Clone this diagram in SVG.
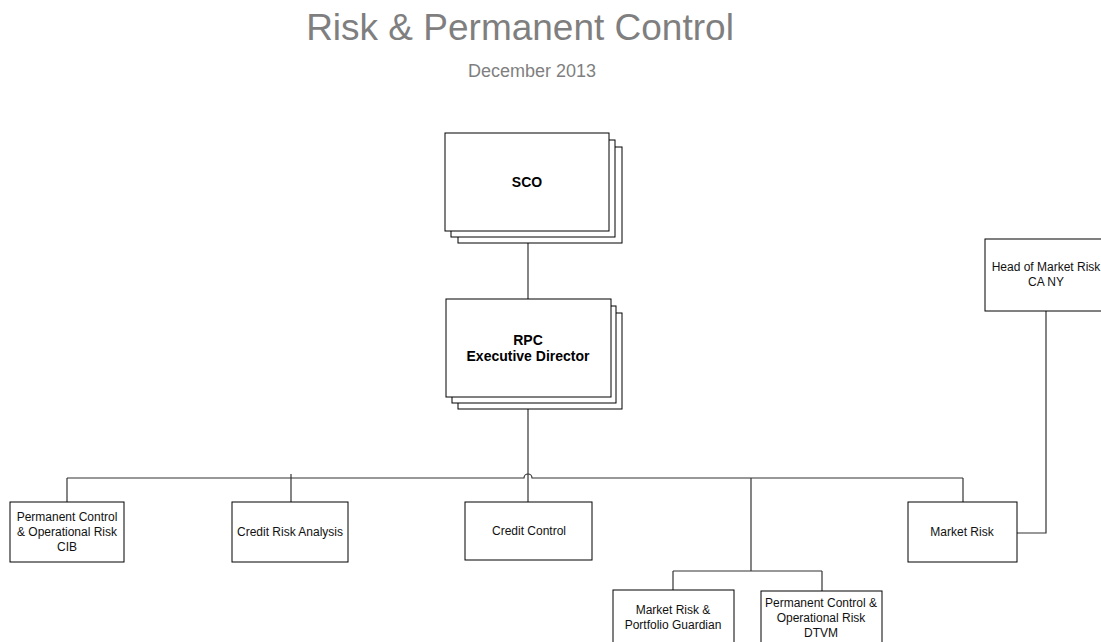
<svg xmlns="http://www.w3.org/2000/svg" width="1101" height="642" viewBox="0 0 1101 642">
<style>
.box{fill:#fff;stroke:#000;stroke-width:1}
.ln{fill:none;stroke:#333;stroke-width:1.2}
.t{font-family:"Liberation Sans",Arial,sans-serif;font-size:12px;fill:#111;text-anchor:middle}
.b{font-family:"Liberation Sans",Arial,sans-serif;font-weight:bold;font-size:14px;fill:#000;text-anchor:middle}
</style>
<rect width="1101" height="642" fill="#fff"/>
<text x="520" y="40" font-family="Liberation Sans, Arial, sans-serif" font-size="37" fill="#7f7f7f" text-anchor="middle">Risk &amp; Permanent Control</text>
<text x="532" y="77" font-family="Liberation Sans, Arial, sans-serif" font-size="18" fill="#7f7f7f" text-anchor="middle">December 2013</text>
<g id="connectors">
<path class="ln" d="M528 231V299"/>
<path class="ln" d="M528 397V502"/>
<path class="ln" d="M67 478H524A4 4 0 0 1 532 478H963"/>
<path class="ln" d="M67 478V502"/>
<path class="ln" d="M291 474V502"/>
<path class="ln" d="M963 478V502"/>
<path class="ln" d="M751 478V571"/>
<path class="ln" d="M673 571H822"/>
<path class="ln" d="M673 571V590"/>
<path class="ln" d="M822 571V591"/>
<path class="ln" d="M1046 311V533H1017"/>
</g>
<g id="sco">
<rect class="box" x="458" y="147" width="164" height="96"/>
<rect class="box" x="451" y="140" width="164" height="97"/>
<rect class="box" x="445" y="133" width="164" height="98"/>
<text class="b" x="527" y="187" font-size="13">SCO</text>
</g>
<g id="rpc">
<rect class="box" x="458" y="313" width="164" height="96"/>
<rect class="box" x="452" y="306" width="164" height="97"/>
<rect class="box" x="446" y="299" width="165" height="98"/>
<text class="b" x="528" y="345">RPC</text>
<text class="b" x="528" y="361">Executive Director</text>
</g>
<g id="pc-cib">
<rect class="box" x="10" y="502" width="114" height="60"/>
<text class="t" x="67" y="521">Permanent Control</text>
<text class="t" x="67" y="536">&amp; Operational Risk</text>
<text class="t" x="67" y="551">CIB</text>
</g>
<g id="credit-risk-analysis">
<rect class="box" x="232" y="502" width="116" height="60"/>
<text class="t" x="290" y="536">Credit Risk Analysis</text>
</g>
<g id="credit-control">
<rect class="box" x="465" y="502" width="127" height="58"/>
<text class="t" x="529" y="535">Credit Control</text>
</g>
<g id="market-risk">
<rect class="box" x="908" y="502" width="109" height="60"/>
<text class="t" x="962" y="536">Market Risk</text>
</g>
<g id="head-market-risk">
<rect class="box" x="985" y="239" width="125" height="72"/>
<text class="t" x="1046" y="271">Head of Market Risk</text>
<text class="t" x="1046" y="286">CA NY</text>
</g>
<g id="mr-portfolio">
<rect class="box" x="613" y="590" width="121" height="60"/>
<text class="t" x="673" y="614">Market Risk &amp;</text>
<text class="t" x="673" y="629">Portfolio Guardian</text>
</g>
<g id="pc-dtvm">
<rect class="box" x="761" y="591" width="121" height="60"/>
<text class="t" x="821" y="607">Permanent Control &amp;</text>
<text class="t" x="821" y="622">Operational Risk</text>
<text class="t" x="821" y="637">DTVM</text>
</g>
</svg>
